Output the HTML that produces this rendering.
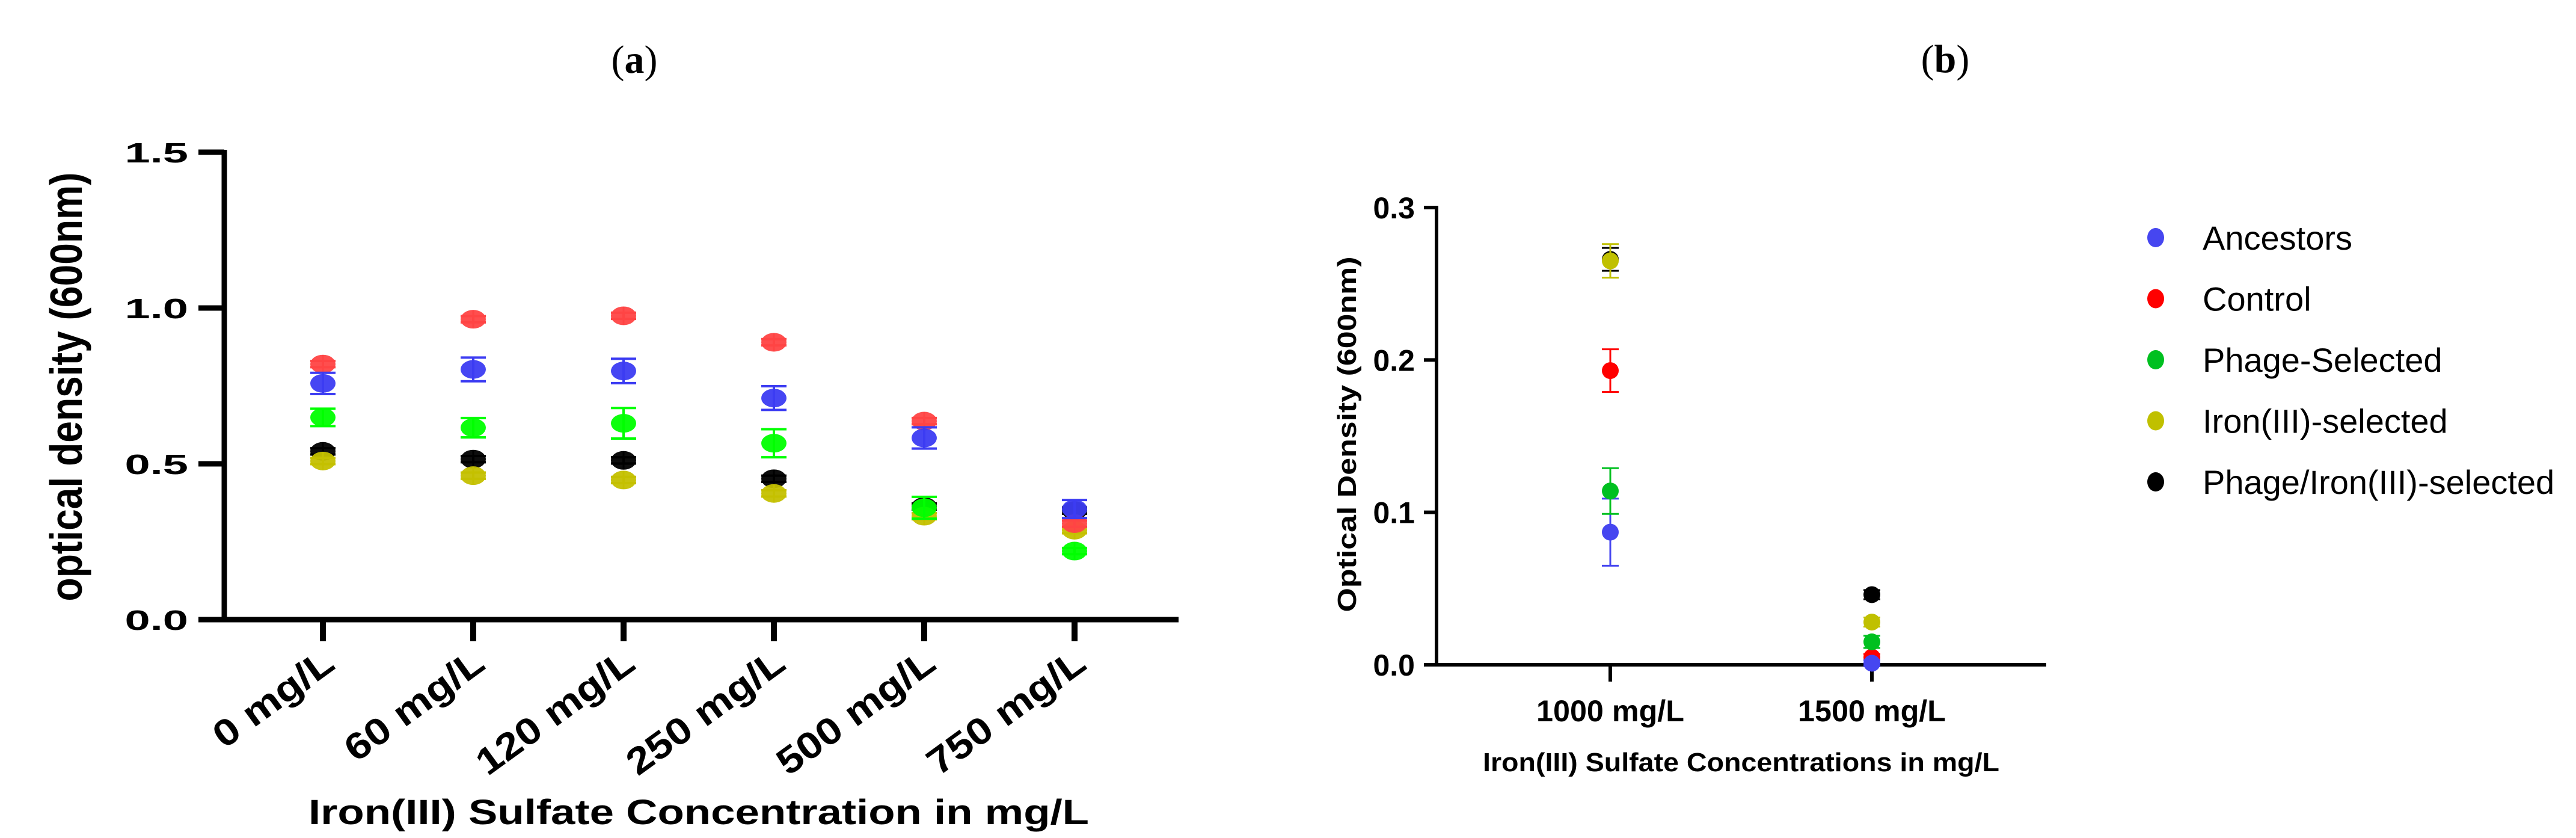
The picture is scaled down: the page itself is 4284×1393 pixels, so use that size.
<!DOCTYPE html>
<html><head><meta charset="utf-8"><style>
html,body{margin:0;padding:0;background:#fff;}
svg{display:block;}
</style></head><body>
<svg id="fig" width="4284" height="1393" viewBox="0 0 4284 1393" xmlns="http://www.w3.org/2000/svg" font-family="Liberation Sans, Arial, sans-serif">
<rect x="0" y="0" width="4284" height="1393" fill="#fff"/>
<text x="1055" y="121" font-family="Liberation Serif, serif" font-size="66" text-anchor="middle">(<tspan font-weight="bold">a</tspan>)</text>
<text x="3235" y="120" font-family="Liberation Serif, serif" font-size="66" text-anchor="middle">(<tspan font-weight="bold">b</tspan>)</text>
<g id="pa"></g>
<g id="pb"></g>
<g id="legend"></g>
</svg>
<script>
const NS='http://www.w3.org/2000/svg';
const seriesNames=['Ancestors','Control','Phage-Selected','Iron(III)-selected','Phage/Iron(III)-selected'];
// Panel A data
const aCategories=['0 mg/L','60 mg/L','120 mg/L','250 mg/L','500 mg/L','750 mg/L'];
const aTicks=[0.0,0.5,1.0,1.5];
const aTickLabels=['0.0','0.5','1.0','1.5'];
const aAncestors=[0.758,0.803,0.798,0.711,0.583,0.355];
const aAncestorsErr=[0.034,0.038,0.039,0.038,0.034,0.029];
const aControl=[0.820,0.964,0.975,0.890,0.637,0.308];
const aControlErr=[0.01,0.01,0.01,0.01,0.01,0.01];
const aPhage=[0.649,0.616,0.630,0.566,0.359,0.220];
const aPhageErr=[0.028,0.031,0.049,0.045,0.035,0.01];
const aIron=[0.509,0.462,0.448,0.405,0.332,0.287];
const aIronErr=[0.01,0.01,0.01,0.01,0.01,0.01];
const aPhageIron=[0.540,0.515,0.511,0.452,0.363,0.35];
const aPhageIronErr=[0.01,0.01,0.01,0.01,0.01,0.01];
// Panel B data
const bCategories=['1000 mg/L','1500 mg/L'];
const bTicks=[0.0,0.1,0.2,0.3];
const bTickLabels=['0.0','0.1','0.2','0.3'];
const bAncestors=[0.087,0.001];
const bAncestorsErr=[0.022,0.002];
const bControl=[0.193,0.005];
const bControlErr=[0.014,0.002];
const bPhage=[0.114,0.015];
const bPhageErr=[0.015,0.004];
const bIron=[0.265,0.028];
const bIronErr=[0.011,0.003];
const bPhageIron=[0.266,0.046];
const bPhageIronErr=[0.0075,0.003];

function el(tag,attrs,parent){const e=document.createElementNS(NS,tag);for(const k in attrs)e.setAttribute(k,attrs[k]);parent.appendChild(e);return e;}

// ---------- Panel A ----------
(function(){
  const g=document.getElementById('pa');
  const x0=373,y0=1030,yTop=253,vmax=1.5,xRight=1960;
  const ya=v=>y0-(v/vmax)*(y0-yTop);
  const xa=i=>537+i*250;
  let ax=el('line',{x1:x0,y1:yTop-4,x2:x0,y2:y0+4,stroke:'#000','stroke-width':9},g);
  
  let bx=el('line',{x1:x0-4,y1:y0,x2:xRight,y2:y0,stroke:'#000','stroke-width':9},g);
  
  aTicks.forEach((t,i)=>{
    let l=el('line',{x1:330,y1:ya(t),x2:x0,y2:ya(t),stroke:'#000','stroke-width':9},g);
    
    let tx=el('text',{x:0,y:0,transform:`translate(313,${ya(t)+17}) scale(1.65,1)`,'text-anchor':'end','font-size':46,'font-weight':'bold'},g);
    tx.textContent=aTickLabels[i];
    
  });
  aCategories.forEach((c,i)=>{
    let l=el('line',{x1:xa(i),y1:y0,x2:xa(i),y2:1066,stroke:'#000','stroke-width':10},g);
    
    let tx=el('text',{x:0,y:0,transform:`translate(${xa(i)+23},${1110}) rotate(-36)`,'text-anchor':'end','font-size':62,'font-weight':'bold',textLength:(c.length*38.5),lengthAdjust:'spacingAndGlyphs'},g);
    tx.textContent=c;
    
  });
  let xt=el('text',{x:513,y:1370,'font-size':58,'font-weight':'bold',textLength:1298,lengthAdjust:'spacingAndGlyphs'},g);
  xt.textContent='Iron(III) Sulfate Concentration in mg/L';
  
  let yt=el('text',{x:0,y:0,transform:'translate(136,643) scale(1.39,1) rotate(-90)','text-anchor':'middle','font-size':54,'font-weight':'bold',textLength:713,lengthAdjust:'spacingAndGlyphs'},g);
  yt.textContent='optical density (600nm)';
  
  const series=[
    {name:'phage-iron',vals:aPhageIron,err:aPhageIronErr,col:'#000000'},
    {name:'iron',vals:aIron,err:aIronErr,col:'#c4c000'},
    {name:'phage',vals:aPhage,err:aPhageErr,col:'#00ff00'},
    {name:'control',vals:aControl,err:aControlErr,col:'#ff4444'},
    {name:'ancestors',vals:aAncestors,err:aAncestorsErr,col:'#3c3cf2'}];
  series.forEach(s=>{
    s.vals.forEach((v,i)=>{
      const cx=xa(i),cy=ya(v),e=s.err[i];
      const sg=el('g',{},g);
      
      el('line',{x1:cx,y1:ya(v+e),x2:cx,y2:ya(v-e),stroke:s.col,'stroke-width':4},sg);
      el('line',{x1:cx-21,y1:ya(v+e),x2:cx+21,y2:ya(v+e),stroke:s.col,'stroke-width':4},sg);
      el('line',{x1:cx-21,y1:ya(v-e),x2:cx+21,y2:ya(v-e),stroke:s.col,'stroke-width':4},sg);
      el('ellipse',{cx:cx,cy:cy,rx:21,ry:15.5,fill:s.col,'fill-opacity':0.95},sg);
      el('line',{x1:cx,y1:cy-15,x2:cx,y2:cy+15,stroke:s.col,'stroke-width':3},sg);
    });
  });
})();

// ---------- Panel B ----------
(function(){
  const g=document.getElementById('pb');
  const x0=2389,y0=1105,yTop=345,vmax=0.3,xRight=3403;
  const ya=v=>y0-(v/vmax)*(y0-yTop);
  const xa=i=>2678+i*435;
  let ax=el('line',{x1:x0,y1:yTop-3,x2:x0,y2:y0+3,stroke:'#000','stroke-width':6},g);
  
  let bx=el('line',{x1:x0-3,y1:y0,x2:xRight,y2:y0,stroke:'#000','stroke-width':6},g);
  
  bTicks.forEach((t,i)=>{
    let l=el('line',{x1:2368,y1:ya(t),x2:x0,y2:ya(t),stroke:'#000','stroke-width':6},g);
    
    let tx=el('text',{x:2353,y:ya(t)+18,'text-anchor':'end','font-size':50,'font-weight':'bold'},g);
    tx.textContent=bTickLabels[i];
    
  });
  bCategories.forEach((c,i)=>{
    let l=el('line',{x1:xa(i),y1:y0,x2:xa(i),y2:1133,stroke:'#000','stroke-width':6},g);
    
    let tx=el('text',{x:xa(i),y:1199,'text-anchor':'middle','font-size':50,'font-weight':'bold',textLength:246,lengthAdjust:'spacingAndGlyphs'},g);
    tx.textContent=c;
    
  });
  let xt=el('text',{x:2466,y:1282,'font-size':44,'font-weight':'bold',textLength:859,lengthAdjust:'spacingAndGlyphs'},g);
  xt.textContent='Iron(III) Sulfate Concentrations in mg/L';
  
  let yt=el('text',{x:0,y:0,transform:'translate(2255,722) rotate(-90)','text-anchor':'middle','font-size':44,'font-weight':'bold',textLength:591,lengthAdjust:'spacingAndGlyphs'},g);
  yt.textContent='Optical Density (600nm)';
  
  const series=[
    {name:'phage-iron',vals:bPhageIron,err:bPhageIronErr,col:'#000000'},
    {name:'iron',vals:bIron,err:bIronErr,col:'#c0c000'},
    {name:'control',vals:bControl,err:bControlErr,col:'#ff0000'},
    {name:'ancestors',vals:bAncestors,err:bAncestorsErr,col:'#4646f0'},
    {name:'phage',vals:bPhage,err:bPhageErr,col:'#00c020'}];
  series.forEach(s=>{
    s.vals.forEach((v,i)=>{
      const cx=xa(i),cy=ya(v),e=s.err[i];
      const sg=el('g',{},g);
      
      el('line',{x1:cx,y1:ya(v+e),x2:cx,y2:ya(v-e),stroke:s.col,'stroke-width':3},sg);
      el('line',{x1:cx-14,y1:ya(v+e),x2:cx+14,y2:ya(v+e),stroke:s.col,'stroke-width':3},sg);
      el('line',{x1:cx-14,y1:ya(v-e),x2:cx+14,y2:ya(v-e),stroke:s.col,'stroke-width':3},sg);
      el('circle',{cx:cx,cy:cy,r:14,fill:s.col},sg);
    });
  });
})();

// ---------- Legend ----------
(function(){
  const g=document.getElementById('legend');
  const cols=['#4646f0','#ff0000','#00c020','#c0c000','#000000'];
  seriesNames.forEach((n,i)=>{
    const y=395+i*101.5;
    const lg=el('g',{},g);
    
    el('ellipse',{cx:3585,cy:y,rx:14,ry:16,fill:cols[i]},lg);
    const t=el('text',{x:3663,y:y+20,'font-size':56},lg);
    t.textContent=n;
  });
})();
</script>
</body></html>
